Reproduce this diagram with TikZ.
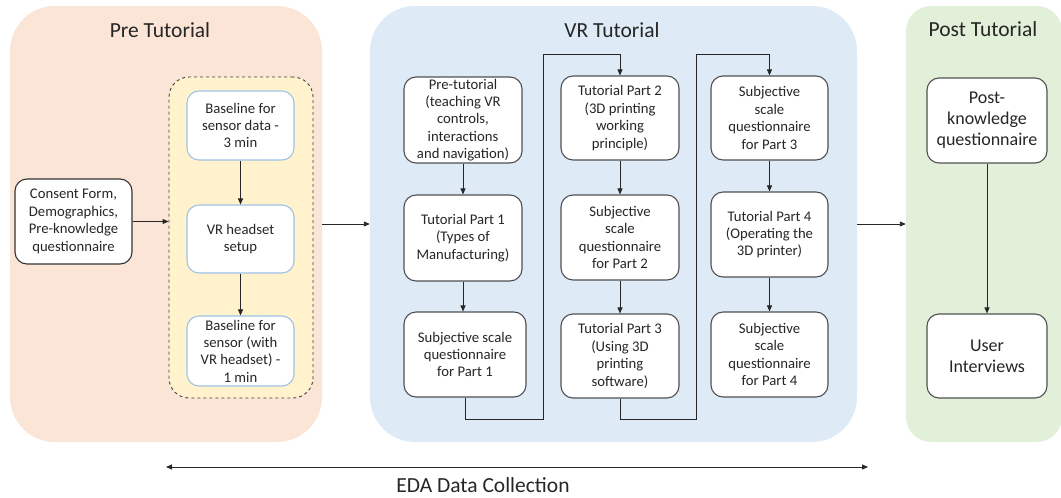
\documentclass[tikz,border=0pt]{standalone}
\usepackage{fontspec}
\setmainfont{Carlito}
\usetikzlibrary{arrows.meta}
\definecolor{prefill}{HTML}{FBE5D6}
\definecolor{vrfill}{HTML}{DEEBF7}
\definecolor{postfill}{HTML}{E2F0D9}
\definecolor{dashfill}{HTML}{FFF2CC}
\definecolor{blueline}{HTML}{9DC3E6}
\definecolor{boxline}{HTML}{505050}
\definecolor{txt}{HTML}{262626}
\tikzset{
  panel/.style={fill=#1, draw=none, rounded corners=45pt, inner sep=0pt},
  title/.style={font=\fontsize{21.5}{24}\selectfont, text=txt},
  flowbox/.style={draw=boxline, line width=1.1pt, fill=white, rounded corners=12pt,
    align=center, inner sep=1pt, font=\fontsize{14.7}{17.4}\selectfont, text=txt},
  bluebox/.style={flowbox, draw=blueline},
  bigbox/.style={flowbox, font=\fontsize{18}{21}\selectfont},
  arr/.style={-{Triangle[length=6pt,width=5pt]}, line width=0.9pt, draw=black!85},
  dblarr/.style={{Triangle[length=6pt,width=5pt]}-{Triangle[length=6pt,width=5pt]}, line width=0.9pt, draw=black!85},
}
\begin{document}
\begin{tikzpicture}[x=1pt,y=-1pt]
\useasboundingbox (0,0) rectangle (1061,498);
% panels
\node[panel=prefill, minimum width=312pt, minimum height=436pt] (pre) at (166,224) {};
\node[panel=vrfill, minimum width=487pt, minimum height=436pt] (vr) at (613.5,224) {};
\node[panel=postfill, rounded corners=25pt, minimum width=156pt, minimum height=436pt] (post) at (984,224) {};
\node[title] (t1) at (160,30) {Pre Tutorial};
\node[title] (t2) at (612,30) {VR Tutorial};
\node[title] (t3) at (983,29) {Post Tutorial};
% pre tutorial
\node[draw=black!75, dashed, line width=0.9pt, fill=dashfill, rounded corners=20pt,
  minimum width=144pt, minimum height=321pt] (dash) at (241,237.5) {};
\node[flowbox, draw=black!80, minimum width=117pt, minimum height=85pt] (consent) at (73.5,221.5)
  {Consent Form,\\Demographics,\\Pre-knowledge\\questionnaire};
\node[bluebox, minimum width=107pt, minimum height=69pt] (b1) at (240.5,125.5)
  {Baseline for\\sensor data -\\3 min};
\node[bluebox, minimum width=107pt, minimum height=68pt] (b2) at (240.5,239)
  {VR headset\\setup};
\node[bluebox, minimum width=107pt, minimum height=70pt] (b3) at (240.5,351)
  {Baseline for\\sensor (with\\VR headset) -\\1 min};
% VR tutorial
\node[flowbox, minimum width=118pt, minimum height=86pt] (c1a) at (463,120)
  {Pre-tutorial\\(teaching VR\\controls,\\interactions\\and navigation)};
\node[flowbox, minimum width=118pt, minimum height=86pt] (c1b) at (463,238)
  {Tutorial Part 1\\(Types of\\Manufacturing)};
\node[flowbox, minimum width=122pt, minimum height=85pt] (c1c) at (465,354.5)
  {Subjective scale\\questionnaire\\for Part 1};
\node[flowbox, minimum width=118pt, minimum height=84pt] (c2a) at (620,118)
  {Tutorial Part 2\\(3D printing\\working\\principle)};
\node[flowbox, minimum width=118pt, minimum height=85pt] (c2b) at (620,237.5)
  {Subjective\\scale\\questionnaire\\for Part 2};
\node[flowbox, minimum width=118pt, minimum height=84pt] (c2c) at (620,356)
  {Tutorial Part 3\\(Using 3D\\printing\\software)};
\node[flowbox, minimum width=117pt, minimum height=84pt] (c3a) at (769.5,118)
  {Subjective\\scale\\questionnaire\\for Part 3};
\node[flowbox, minimum width=117pt, minimum height=85pt] (c3b) at (769.5,234.5)
  {Tutorial Part 4\\(Operating the\\3D printer)};
\node[flowbox, minimum width=117pt, minimum height=85pt] (c3c) at (769.5,354.5)
  {Subjective\\scale\\questionnaire\\for Part 4};
% post tutorial
\node[bigbox, minimum width=120pt, minimum height=85pt] (p1) at (987,120.5)
  {Post-\\knowledge\\questionnaire};
\node[bigbox, minimum width=120pt, minimum height=84pt] (p2) at (987,356)
  {User\\Interviews};
% connectors
\draw[arr] (consent.east) -- (consent.east -| dash.west);
\draw[arr] (b1) -- (b2);
\draw[arr] (b2) -- (b3);
\draw[arr] (pre.east) -- (vr.west);
\draw[arr] (c1a) -- (c1b);
\draw[arr] (c1b.south) -- (c1b.south |- c1c.north);
\coordinate (r1) at (543,419);
\coordinate (r1t) at (543,54);
\draw[arr] (c1c.south) |- (r1) -- (r1t) -| (c2a.north);
\draw[arr] (c2a) -- (c2b);
\draw[arr] (c2b) -- (c2c);
\coordinate (r2) at (696,419);
\coordinate (r2t) at (696,54);
\draw[arr] (c2c.south) |- (r2) -- (r2t) -| (c3a.north);
\draw[arr] (c3a) -- (c3b);
\draw[arr] (c3b) -- (c3c);
\draw[arr] (vr.east) -- (post.west);
\draw[arr] (p1) -- (p2);
% EDA
\coordinate (e1) at (166,467);
\coordinate (e2) at (868,467);
\draw[dblarr] (e1) -- (e2);
\node[title] (eda) at (483,485) {EDA Data Collection};
\end{tikzpicture}
\end{document}
